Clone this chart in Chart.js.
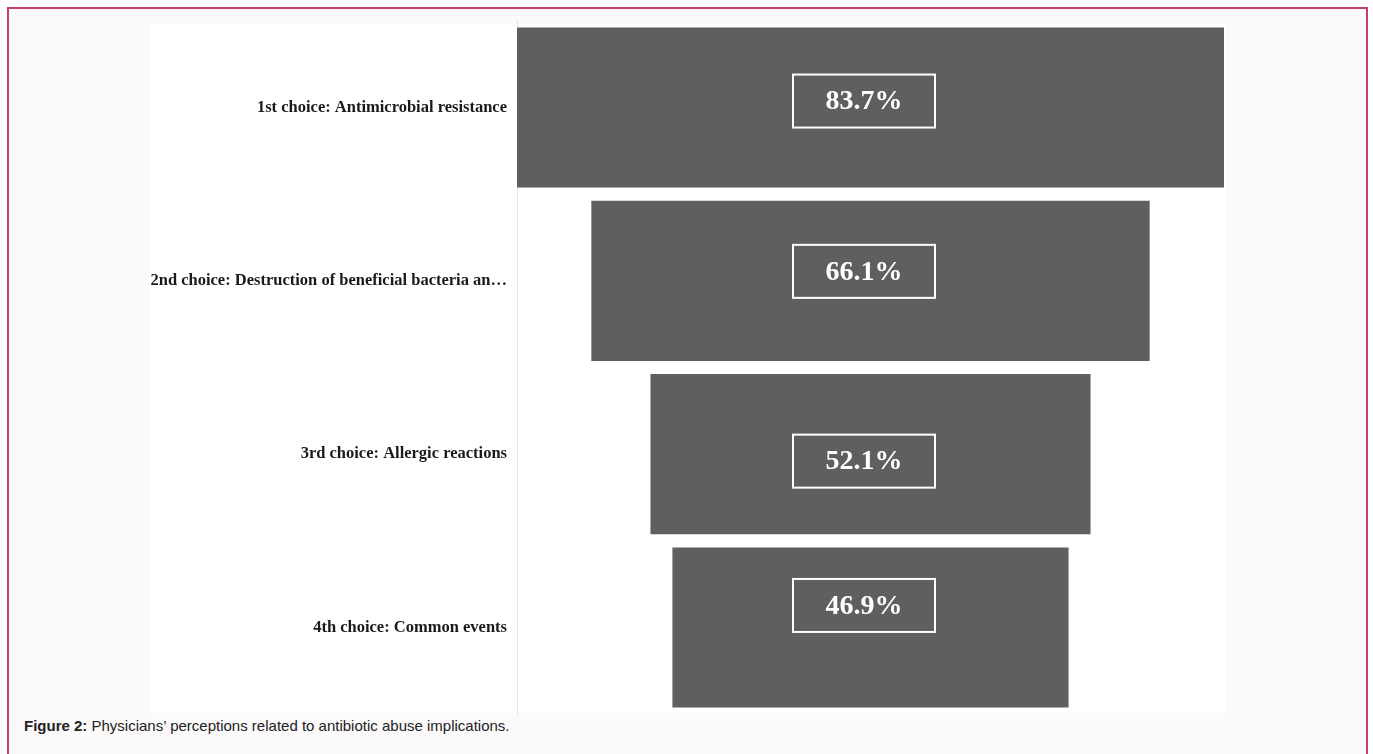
<!DOCTYPE html>
<html>
<head>
<meta charset="utf-8">
<script src="https://cdn.jsdelivr.net/npm/chart.js@4.4.1/dist/chart.umd.min.js"></script>
<style>
  html, body { margin: 0; padding: 0; background: #ffffff; }
  body { width: 1373px; height: 754px; position: relative; overflow: hidden; }
  #frame {
    position: absolute; left: 7px; top: 7px; width: 1357px; height: 770px;
    border: 2px solid #c2416b; background: #fbf9fa; box-sizing: content-box;
  }
  #paper { position: absolute; left: 149px; top: 24px; width: 1078px; height: 689px; background: #ffffff; }
  #wrap { position: absolute; left: 149px; top: 1px; width: 1078px; height: 733px; }
  #caption {
    position: absolute; left: 24px; top: 717px;
    font-family: "Liberation Sans", Arial, sans-serif; font-size: 15px; color: #222;
  }
</style>
</head>
<body>
<div id="frame"></div>
<div id="paper"></div>
<div id="caption"><b>Figure 2:</b> Physicians’ perceptions related to antibiotic abuse implications.</div>
<div id="wrap"><canvas id="c"></canvas></div>
<script>
const categories = [
  "1st choice: Antimicrobial resistance",
  "2nd choice: Destruction of beneficial bacteria an…",
  "3rd choice: Allergic reactions",
  "4th choice: Common events"
];
const percentages = [83.7, 66.1, 52.1, 46.9];

const maxVal = Math.max(...percentages);

// Boxed value labels drawn over each funnel bar
const boxedLabels = {
  id: 'boxedLabels',
  afterDatasetsDraw(chart, args, opts) {
    const ctx = chart.ctx;
    const meta = chart.getDatasetMeta(0);
    ctx.save();
    meta.data.forEach((bar, i) => {
      const cx = (bar.x + bar.base) / 2 + opts.dx;
      const cy = bar.y + (opts.dy[i] || 0);
      const w = 142, h = 53;
      ctx.strokeStyle = '#ffffff';
      ctx.lineWidth = 2;
      ctx.strokeRect(cx - w / 2, cy - h / 2, w, h);
      ctx.fillStyle = '#ffffff';
      ctx.font = 'bold 28px "Liberation Serif", "Times New Roman", serif';
      ctx.textAlign = 'center';
      ctx.textBaseline = 'middle';
      ctx.fillText(percentages[i].toFixed(1) + '%', cx, cy + 1);
    });
    ctx.restore();
  }
};

new Chart(document.getElementById('c'), {
  type: 'bar',
  data: {
    labels: categories,
    datasets: [{
      data: percentages.map(v => [-v / 2, v / 2]),
      backgroundColor: '#5f5f5f',
      borderWidth: 0,
      barPercentage: 0.924,
      categoryPercentage: 1.0
    }]
  },
  plugins: [boxedLabels],
  options: {
    indexAxis: 'y',
    responsive: true,
    maintainAspectRatio: false,
    animation: false,
    layout: { padding: { left: 0, right: 3, top: 0, bottom: 0 } },
    plugins: {
      legend: { display: false },
      tooltip: { enabled: false },
      boxedLabels: { dx: -6.5, dy: [-6.5, -9.5, 7, -22] }
    },
    scales: {
      x: {
        display: false,
        min: -maxVal / 2,
        max: maxVal / 2
      },
      y: {
        afterFit(scale) { scale.width = 368; },
        grid: { display: false, drawTicks: false },
        border: { display: true, color: '#e4e4e4', width: 1 },
        ticks: {
          padding: 10,
          color: '#1a1a1a',
          font: { family: '"Liberation Serif", "Times New Roman", serif', size: 16.5, weight: 'bold' }
        }
      }
    }
  }
});
</script>
</body>
</html>
